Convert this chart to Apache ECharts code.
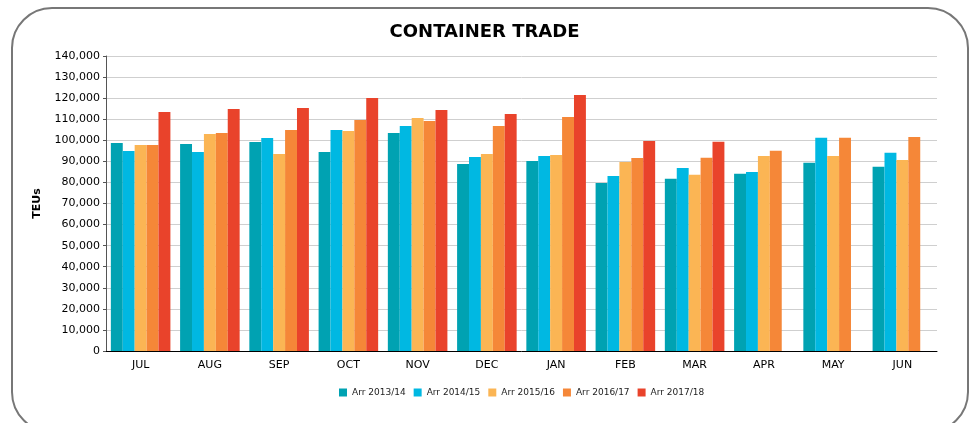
<!DOCTYPE html>
<html>
<head>
<meta charset="UTF-8">
<style>
html, body { margin: 0; padding: 0; background: #fff; }
#main { width: 969px; height: 423px; }
</style>
</head>
<body>
<div id="main"></div>
<script src="https://cdn.jsdelivr.net/npm/echarts@6/dist/echarts.min.js"></script>
<script type="text/javascript">
// months of the financial year
var months = ['JUL', 'AUG', 'SEP', 'OCT', 'NOV', 'DEC', 'JAN', 'FEB', 'MAR', 'APR', 'MAY', 'JUN'];

// TEUs per year
var arr1314 = [98700, 98200, 99200, 94400, 103500, 88700, 90200, 79700, 81700, 84100, 89300, 87400];
var arr1415 = [94900, 94400, 101100, 104900, 106800, 92100, 92500, 83000, 86900, 85000, 101200, 94100];
var arr1516 = [97800, 103000, 93500, 104400, 110600, 93500, 93000, 89700, 83600, 92600, 92600, 90700];
var arr1617 = [97800, 103500, 104900, 109600, 109200, 106800, 111000, 91600, 91700, 95000, 101200, 101600];
var arr1718 = [113400, 114800, 115300, 120100, 114400, 112500, 121500, 99700, 99300, null, null, null];

var seriesNames = ['Arr 2013/14', 'Arr 2014/15', 'Arr 2015/16', 'Arr 2016/17', 'Arr 2017/18'];
var colors = ['#00A2B2', '#00B8E2', '#FBB554', '#F58738', '#E9432B'];

var font = 'DejaVu Sans';
var myChart = echarts.init(document.getElementById('main'));

var data = [arr1314, arr1415, arr1516, arr1617, arr1718];
var series = [];
for (var i = 0; i < data.length; i++) {
	series.push({
		name: seriesNames[i],
		type: 'bar',
		data: data[i],
		barGap: '0%',
		barCategoryGap: '14%',
		itemStyle: { color: colors[i] }
	});
}

var option = {
	animation: false,
	color: colors,
	title: {
		text: 'CONTAINER TRADE',
		left: 'center',
		top: 18,
		textStyle: { fontFamily: font, fontSize: 18, fontWeight: 'bold', color: '#000' }
	},
	graphic: [{
		type: 'rect',
		shape: { x: 12, y: 8, width: 956, height: 424, r: 40 },
		style: { fill: 'none', stroke: '#777', lineWidth: 2 },
		z: 100
	}],
	legend: {
		data: seriesNames,
		bottom: 21,
		left: 334,
		itemWidth: 8,
		itemHeight: 8,
		itemGap: 8,
		itemStyle: { borderWidth: 0 },
		icon: 'rect',
		textStyle: { fontFamily: font, fontSize: 9, color: '#222' }
	},
	grid: { left: 106, right: 32, top: 56, bottom: 72 },
	xAxis: {
		type: 'category',
		data: months,
		axisLine: { lineStyle: { color: '#000', width: 1 } },
		axisTick: { show: false },
		axisLabel: { fontFamily: font, fontSize: 11, color: '#000', margin: 9 }
	},
	yAxis: {
		type: 'value',
		min: 0,
		max: 140000,
		interval: 10000,
		name: 'TEUs',
		nameLocation: 'middle',
		nameGap: 63,
		nameTextStyle: { fontFamily: font, fontSize: 11, fontWeight: 'bold', color: '#000' },
		axisLine: { show: true, lineStyle: { color: '#555', width: 1 } },
		axisTick: { show: true, length: 3, lineStyle: { color: '#555' } },
		axisLabel: {
			fontFamily: font, fontSize: 11, color: '#000', margin: 6,
			formatter: function (v) { return v.toLocaleString('en-US'); }
		},
		splitLine: { lineStyle: { color: '#cfcfcf', width: 1 } }
	},
	series: series
};

myChart.setOption(option);
</script>
</body>
</html>
